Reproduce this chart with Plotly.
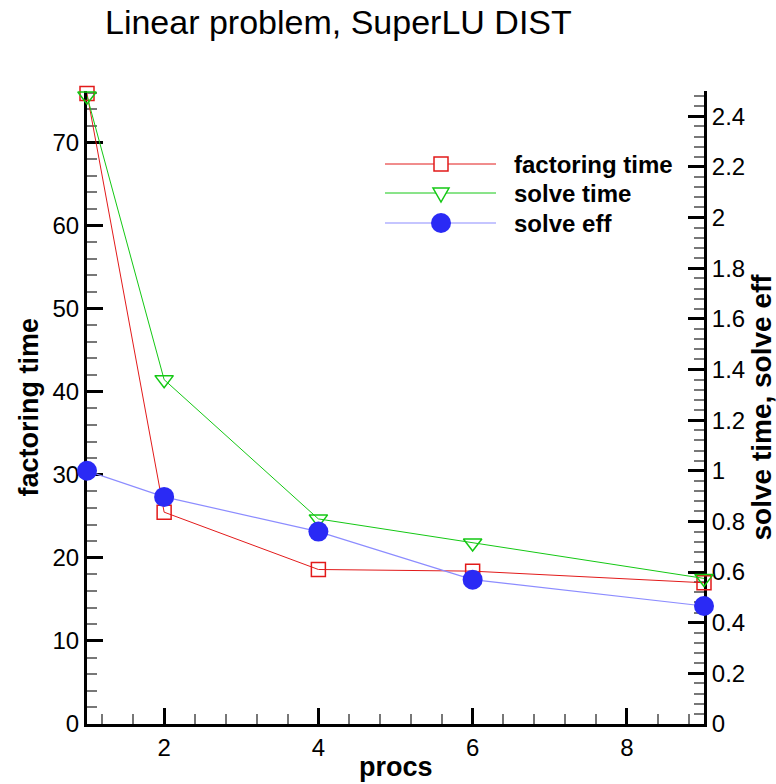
import plotly.graph_objects as go

# ---- data ----
procs = [1, 2, 4, 6, 9]
factoring_time = [75.9, 25.5, 18.6, 18.4, 17.0]
solve_time = [2.48, 1.36, 0.81, 0.715, 0.575]
solve_eff = [1.0, 0.897, 0.76, 0.57, 0.466]

series_names = ["factoring time", "solve time", "solve eff"]
left_ticks = [0, 10, 20, 30, 40, 50, 60, 70]
right_ticks = [0, 0.2, 0.4, 0.6, 0.8, 1, 1.2, 1.4, 1.6, 1.8, 2, 2.2, 2.4]
x_ticks = [2, 4, 6, 8]

RED = "#e21a1a"
GREEN = "#14c814"
BLUE_M = "#2a2af5"
BLUE_L = "#8c8cff"

W, H = 776, 784
L, R, T, B = 87, 704, 91, 724  # plot area in pixels


def px(xp):
    return (xp - L) / (R - L)


def py(yp):
    return (B - yp) / (B - T)


fig = go.Figure()
fig.add_trace(go.Scatter(
    x=procs, y=factoring_time, name=series_names[0], mode="lines+markers",
    line=dict(color=RED, width=1),
    marker=dict(symbol="square-open", size=14, color=RED, line=dict(width=1.5)),
    cliponaxis=False, yaxis="y"))
fig.add_trace(go.Scatter(
    x=procs, y=solve_time, name=series_names[1], mode="lines+markers",
    line=dict(color=GREEN, width=1),
    marker=dict(symbol="triangle-down-open", size=16, color=GREEN, line=dict(width=1.5)),
    cliponaxis=False, yaxis="y2"))
fig.add_trace(go.Scatter(
    x=procs, y=solve_eff, name=series_names[2], mode="lines+markers",
    line=dict(color=BLUE_L, width=1.2),
    marker=dict(symbol="circle", size=20, color=BLUE_M),
    cliponaxis=False, yaxis="y2"))

FONT = "Liberation Sans, Arial, sans-serif"
tickfont = dict(family=FONT, size=24, color="black")
common = dict(showgrid=False, zeroline=False, showline=True, linecolor="black",
              linewidth=3, ticks="inside", ticklen=16, tickwidth=3,
              tickcolor="black", tickfont=tickfont, layer="below traces")

fig.update_layout(
    width=W, height=H,
    margin=dict(l=L, r=W - R, t=T, b=H - B, autoexpand=False),
    paper_bgcolor="white", plot_bgcolor="white",
    showlegend=False,
    xaxis=dict(range=[1, 9], tickvals=x_ticks, mirror=False,
               minor=dict(dtick=0.4, tick0=0, ticks="inside", ticklen=10,
                          tickwidth=1.5, tickcolor="#777"),
               **common),
    yaxis=dict(range=[0, 76.2], tickvals=left_ticks,
               minor=dict(dtick=2, tick0=0, ticks="inside", ticklen=10,
                          tickwidth=1.5, tickcolor="#777"),
               **common),
    yaxis2=dict(range=[0, 2.5], tickvals=right_ticks, overlaying="y",
                side="right",
                minor=dict(dtick=0.04, tick0=0, ticks="inside", ticklen=10,
                           tickwidth=1.5, tickcolor="#777"),
                **common),
    title=dict(text="Linear problem, SuperLU DIST", xref="paper", yref="container",
               x=px(105), xanchor="left", y=1 - 22 / H, yanchor="middle",
               font=dict(family=FONT, size=34, color="black")),
)

annots = [
    dict(text="<b>factoring time</b>", x=px(28), y=0.5, textangle=-90, size=27),
    dict(text="<b>procs</b>", x=0.5, y=py(767), textangle=0, size=27),
    dict(text="<b>solve time, solve eff</b>", x=px(761), y=0.5, textangle=-90, size=28),
]
for a in annots:
    size = a.pop("size")
    fig.add_annotation(xref="paper", yref="paper", showarrow=False,
                       xanchor="center", yanchor="middle",
                       font=dict(family=FONT, size=size, color="black"), **a)

# ---- legend (drawn manually to match the reference style) ----
rows = [164, 193, 223]
line_cols = [RED, GREEN, BLUE_L]
leg_font = dict(family=FONT, size=24, color="black")
for i, (yy, col) in enumerate(zip(rows, line_cols)):
    fig.add_shape(type="line", xref="paper", yref="paper", x0=px(385), x1=px(496),
                  y0=py(yy), y1=py(yy), line=dict(color=col, width=1.2 if i == 2 else 1))
    fig.add_annotation(xref="paper", yref="paper", x=px(512), y=py(yy), showarrow=False,
                       xanchor="left", yanchor="middle", text="<b>" + series_names[i] + "</b>",
                       font=leg_font)

mx = px(441)
fig.add_shape(type="rect", xref="paper", yref="paper", xsizemode="pixel", ysizemode="pixel",
              xanchor=mx, yanchor=py(rows[0]), x0=-7, x1=7, y0=-7, y1=7,
              fillcolor="white", line=dict(color=RED, width=1.5))
fig.add_shape(type="path", xref="paper", yref="paper", xsizemode="pixel", ysizemode="pixel",
              xanchor=mx, yanchor=py(rows[1]), path="M-8,5 L8,5 L0,-9 Z",
              fillcolor="white", line=dict(color=GREEN, width=1.5))
fig.add_shape(type="circle", xref="paper", yref="paper", xsizemode="pixel", ysizemode="pixel",
              xanchor=mx, yanchor=py(rows[2]), x0=-10, x1=10, y0=-10, y1=10,
              fillcolor=BLUE_M, line=dict(color=BLUE_M, width=0))

fig.write_html("out.html")
